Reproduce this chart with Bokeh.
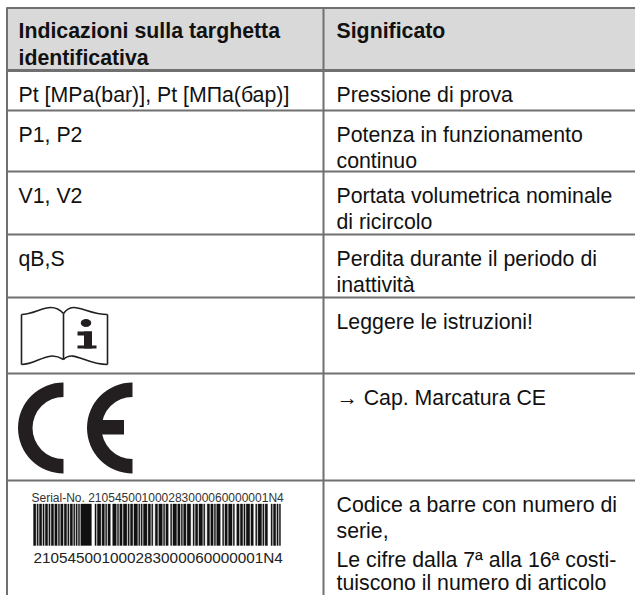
from bokeh.plotting import figure
from bokeh.models import ColumnDataSource
from bokeh.core.properties import value
from bokeh.embed import file_html
from bokeh.resources import INLINE

FONT = "Liberation Sans"
LINE = "#707070"
INK = "#111111"
MARK = "#231f20"

header_left = ["Indicazioni sulla targhetta", "identificativa"]
header_right = ["Significato"]
left_cells = ["Pt [MPa(bar)], Pt [МПа(бар)]", "P1, P2", "V1, V2", "qB,S"]
right_cells = [
    ["Pressione di prova"],
    ["Potenza in funzionamento", "continuo"],
    ["Portata volumetrica nominale", "di ricircolo"],
    ["Perdita durante il periodo di", "inattività"],
    ["Leggere le istruzioni!"],
    ["→ Cap. Marcatura CE"],
    ["Codice a barre con numero di", "serie,"],
]
last_paragraph = ["Le cifre dalla 7ª alla 16ª costi-", "tuiscono il numero di articolo"]
serial_label = "Serial-No. 210545001000283000060000001N4"
serial_digits = "210545001000283000060000001N4"

# Table rows: separator positions in pixels
row_lines = [70, 110, 171, 234, 297, 373, 480]
# Barcode: alternating bar / gap widths
barcode_runs = [
    2, 1, 1, 1, 2, 1, 1, 1, 2, 1, 1, 1, 2, 1, 2, 1, 1, 1, 2, 1, 2, 1, 1, 1, 2, 1, 1, 1,
    1, 1, 1, 1, 9, 3, 1, 1, 3, 1, 2, 1, 1, 1, 2, 2, 3, 1, 1, 1, 2, 1, 3, 1, 1, 1, 2, 1,
    3, 1, 1, 1, 1, 1, 3, 1, 2, 1, 1, 2, 2, 1, 3, 1, 1, 1, 2, 2, 1, 1, 3, 1, 2, 1, 1, 1,
    2, 1, 3, 2, 1, 1, 2, 1, 3, 1, 1, 2, 2, 1, 2, 1, 1, 1, 3, 2, 1, 1, 2, 1, 3, 1, 1, 2,
    2, 1, 2, 1, 1, 1, 3, 1, 2, 2, 1, 1, 3, 1, 1, 1, 2, 3, 1, 1, 2, 1, 1, 1, 1,
]

p = figure(
    width=635, height=595, x_range=(0, 635), y_range=(595, 0),
    toolbar_location=None, output_backend="svg", min_border=0,
    outline_line_color=None,
    x_axis_location=None, y_axis_location=None,
)
p.grid.visible = False
p.background_fill_color = "white"

# Header band and rules
p.quad(left=[7], right=[635], top=[8], bottom=[70], fill_color="#d9d9d9", line_color=None)
p.segment(x0=[6], y0=[7.5], x1=[635], y1=[7.5], line_color=LINE, line_width=2)
p.segment(x0=[6] * len(row_lines), y0=row_lines, x1=[635] * len(row_lines), y1=row_lines,
          line_color=LINE, line_width=2)
p.segment(x0=[6], y0=[row_lines[0]], x1=[635], y1=[row_lines[0]], line_color=LINE, line_width=3)
p.segment(x0=[6.5, 323], y0=[7, 7], x1=[6.5, 323], y1=[595, 595], line_color=LINE, line_width=2)


def put(x, y, lines, size="21.3px", style="normal", color=INK):
    src = ColumnDataSource(dict(x=x, y=y, t=lines))
    p.text("x", "y", "t", source=src, text_font=value(FONT), text_font_size=value(size),
           text_font_style=style, text_color=color, text_baseline="alphabetic", text_align="left")


put([18, 18], [30, 57], header_left, style="bold")
put([336], [30], header_right, style="bold")

put([18] * len(left_cells), [t + 24.5 for t in row_lines[:4]], left_cells)
xs, ys, ts = [], [], []
for top, cell in zip(row_lines, right_cells):
    for i, t in enumerate(cell):
        xs.append(336)
        ys.append(top + 24 + 26 * i)
        ts.append(t)
put(xs, ys, ts)
put([336, 336], [559.5, 582], last_paragraph)

# Book icon
bz = dict(line_color=MARK, line_width=1.6)
p.bezier(x0=[21, 63, 21, 63], y0=[314, 313, 364, 359], x1=[63, 107, 63, 107], y1=[313, 314, 359, 364],
         cx0=[37, 73, 37, 73], cy0=[314, 299, 364, 349], cx1=[50, 85, 47, 85], cy1=[299, 314, 349, 364], **bz)
p.segment(x0=[21, 107, 63], y0=[314, 314, 313], x1=[21, 107, 63], y1=[364, 364, 359], **bz)
p.ellipse(x=[85.5], y=[322.5], width=[10.5], height=[8], fill_color=MARK, line_color=None)
p.quad(left=[77, 83.5, 77], right=[91.5, 91.5, 96], top=[331, 331, 345], bottom=[335, 348, 348],
       fill_color=MARK, line_color=None)

# CE mark
p.annular_wedge(x=[63, 132], y=[427.5, 427.5], inner_radius=[31, 31], outer_radius=[45.5, 45.5],
                start_angle=[90, 90], end_angle=[270, 270], start_angle_units="deg", end_angle_units="deg",
                fill_color=MARK, line_color=None)
p.quad(left=[100], right=[123.5], top=[419.5], bottom=[434], fill_color=MARK, line_color=None)

# Barcode
left, x = [], 33.0
right = []
for i, w in enumerate(barcode_runs):
    if i % 2 == 0:
        left.append(x)
        right.append(x + w)
    x += w
scale = 247.0 / (x - 33.0)
left = [33 + (v - 33) * scale for v in left]
right = [33 + (v - 33) * scale for v in right]
p.quad(left=left, right=right, top=[503.5] * len(left), bottom=[545] * len(left),
       fill_color="#111111", line_color="#111111", line_width=0.35)
put([31], [497.5], [serial_label], size="12px", color="#333333")
put([33], [557], [serial_digits], size="15.3px", color="#222222")

open("out.html", "w").write(file_html(p, INLINE))
